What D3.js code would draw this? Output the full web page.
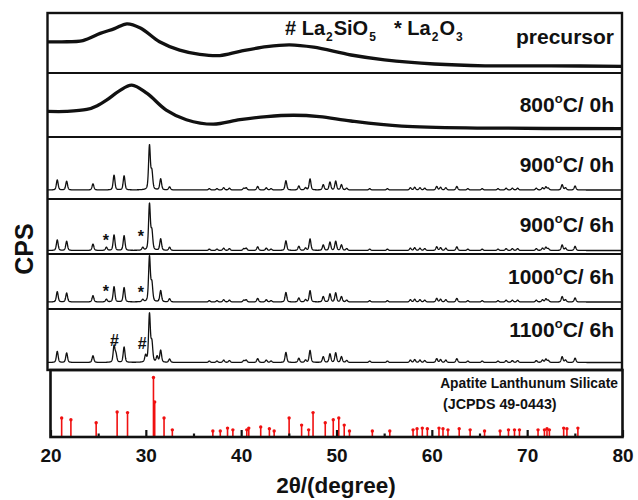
<!DOCTYPE html>
<html>
<head>
<meta charset="utf-8">
<script src="https://cdnjs.cloudflare.com/ajax/libs/d3/7.8.5/d3.min.js"></script>
<style>
body { margin: 0; background: #fff; }
text { font-family: "Liberation Sans", Arial, sans-serif; font-weight: bold; fill: #111; }
</style>
</head>
<body>
<div id="chart"></div>
<script>
// ---- data ----
// amorphous samples, smooth envelope (2theta, counts a.u.)
var precursorTheta = [20.0, 21.5, 23.7, 25.5, 27.0, 28.3, 29.7, 31.7, 33.8, 35.9, 38.0, 40.1, 42.9, 45.3, 47.8, 51.7, 55.2, 60.4, 65.7, 72.6, 80.0];
var precursorCps   = [52, 52, 54, 66, 74, 82, 75, 52, 38, 31, 29, 36, 44, 47, 43, 30, 22, 15, 12, 12, 11];
var fired800Theta  = [20.0, 22.0, 24.1, 25.2, 26.2, 27.5, 28.8, 30.4, 32.4, 34.5, 37.3, 40.1, 42.9, 45.7, 48.4, 51.7, 57.0, 65.7, 80.0];
var fired800Cps    = [40, 40, 43, 49, 58, 72, 81, 68, 42, 27, 20, 27, 32, 34, 32, 25, 17, 14, 13];

// apatite reflections seen in the crystalline patterns (relative intensity)
var apatiteTheta = [21.02, 22.0, 24.75, 26.95, 28.0, 30.65, 30.9, 31.82, 32.75, 36.9, 37.7, 38.4, 39.0, 40.5, 40.75, 41.95, 42.85, 43.35,
  44.9, 46.25, 46.95, 47.42, 48.8, 49.5, 50.1, 50.7, 51.25, 53.65, 55.5, 57.9, 58.35, 58.9, 59.4, 60.65, 61.05, 61.6, 62.75,
  63.9, 65.4, 67.05, 67.9, 68.55, 69.1, 71.05, 71.7, 72.05, 72.3, 73.75, 74.1, 75.1];
var apatiteRel = [23, 20, 14, 34, 32, 100, 40, 25, 7, 3, 3, 5, 4, 4, 5, 8, 5, 3,
  21, 9, 5, 25, 12, 18, 20, 12, 4, 3, 3, 5, 6, 5, 4, 8, 6, 5, 8,
  3, 3, 3, 4, 4, 4, 4, 5, 7, 4, 12, 5, 9];

// crystalline samples: main-peak scaling and impurity reflections
var sampleNames  = ["900_0h", "900_6h", "1000_6h", "1100_6h"];
var sampleScale  = [1.0, 1.0, 1.0, 1.0];
var la2o3Theta   = [26.15, 29.95];
var la2o3_900    = [7, 6];
var la2o3_1000   = [6, 5];
var la2sio5Theta = [27.15, 30.25, 31.45];
var la2sio5_1100 = [16, 14, 12];

// JCPDS 49-0443 stick pattern
var refTheta = [21.17, 22.14, 24.79, 26.99, 28.08, 30.80, 30.93, 31.91, 32.78, 37.03, 37.81, 38.57, 39.13, 40.59, 40.80, 42.05, 42.96, 43.46,
  45.03, 46.34, 47.08, 47.54, 48.82, 49.66, 50.24, 50.81, 51.36, 53.76, 55.59, 58.03, 58.45, 59.00, 59.53, 60.75, 61.17, 61.69, 62.87,
  64.02, 65.53, 67.16, 68.04, 68.67, 69.19, 71.14, 71.81, 72.08, 72.33, 73.83, 74.17, 75.32];
var refInt = [32, 29, 24, 42, 41, 100, 59, 32, 12, 10, 10, 15, 12, 12, 15, 17, 14, 10,
  32, 20, 12, 41, 24, 29, 32, 20, 10, 10, 10, 12, 14, 15, 14, 15, 14, 12, 14,
  12, 10, 10, 12, 12, 12, 12, 12, 14, 12, 15, 14, 15];

var xTicks = [20, 30, 40, 50, 60, 70, 80];
var xMinor = [25, 35, 45, 55, 65, 75];
var panelLabels = ["precursor", "800", "900", "900", "1000", "1100"];
var panelHours  = [null, "0h", "0h", "6h", "6h", "6h"];

// ---- layout ----
var width = 638, height = 500;
var bounds = [13, 73, 137, 199, 254, 309, 370, 437];
var labelY = [44, 111.5, 171.5, 231.5, 283.5, 336.5];
var crystBase = [190, 250.5, 302, 362.5];
var crystFull = [44, 46, 45, 48];

var svg = d3.select("#chart").append("svg")
    .attr("width", width)
    .attr("height", height);

var x = d3.scaleLinear().domain([20, 80]).range([47.5, 622]);
var xRef = d3.scaleLinear().domain([20, 80]).range([50.5, 622.5]);

// amorphous panels
var line = d3.line().curve(d3.curveCatmullRom.alpha(0.5));
[[precursorTheta, precursorCps], [fired800Theta, fired800Cps]].forEach(function (s, i) {
    var y = d3.scaleLinear().domain([0, 100]).range([bounds[i + 1], bounds[i]]);
    svg.append("path")
        .attr("d", line(s[0].map(function (t, k) { return [x(t), y(s[1][k])]; })))
        .attr("fill", "none")
        .attr("stroke", "#111")
        .attr("stroke-width", 3.3);
});

// crystalline panels: peak list -> pseudo-Voigt profile
function profile(peaks) {
    var pts = [];
    for (var t = 20; t <= 80.0001; t += 0.02) {
        var s = 0;
        peaks.forEach(function (p) {
            var d = (t - p[0]) / 0.11;
            s += p[1] * (0.6 * Math.exp(-0.693 * d * d) + 0.4 / (1 + d * d));
        });
        pts.push([t, s]);
    }
    return pts;
}

var crystLine = d3.line();
sampleNames.forEach(function (name, i) {
    var peaks = apatiteTheta.map(function (t, k) { return [t, apatiteRel[k] * sampleScale[i]]; });
    if (i === 1) la2o3Theta.forEach(function (t, k) { peaks.push([t, la2o3_900[k]]); });
    if (i === 2) la2o3Theta.forEach(function (t, k) { peaks.push([t, la2o3_1000[k]]); });
    if (i === 3) la2sio5Theta.forEach(function (t, k) { peaks.push([t, la2sio5_1100[k]]); });
    var y = d3.scaleLinear().domain([0, 100]).range([crystBase[i], crystBase[i] - crystFull[i]]);
    svg.append("path")
        .attr("d", crystLine(profile(peaks).map(function (p) { return [x(p[0]), y(p[1])]; })))
        .attr("fill", "none")
        .attr("stroke", "#111")
        .attr("stroke-width", 1.3)
        .attr("stroke-linejoin", "round");
});

// reference sticks
var yRef = d3.scaleLinear().domain([0, 100]).range([437, 377.5]);
svg.append("g").selectAll("line")
    .data(refTheta)
    .enter().append("line")
    .attr("x1", function (d) { return xRef(d); })
    .attr("x2", function (d) { return xRef(d); })
    .attr("y1", 437)
    .attr("y2", function (d, i) { return yRef(refInt[i]); })
    .attr("stroke", "#f01010")
    .attr("stroke-width", 1.6);
svg.append("g").selectAll("circle")
    .data(refTheta)
    .enter().append("circle")
    .attr("cx", function (d) { return xRef(d); })
    .attr("cy", function (d, i) { return yRef(refInt[i]); })
    .attr("r", 1.7)
    .attr("fill", "#f01010");

// frames
svg.append("rect")
    .attr("x", 47.5).attr("y", 13).attr("width", 574.5).attr("height", 357)
    .attr("fill", "none").attr("stroke", "#111").attr("stroke-width", 2.4);
bounds.slice(1, 6).forEach(function (b) {
    svg.append("line").attr("x1", 47.5).attr("x2", 622).attr("y1", b).attr("y2", b)
        .attr("stroke", "#111").attr("stroke-width", 2.2);
});
svg.append("rect")
    .attr("x", 50.5).attr("y", 370).attr("width", 572).attr("height", 67)
    .attr("fill", "none").attr("stroke", "#111").attr("stroke-width", 2.6);

// bottom axis
var axis = svg.append("g")
    .attr("transform", "translate(0,437)")
    .call(d3.axisBottom(xRef).tickValues(xTicks).tickSizeInner(-7).tickSizeOuter(0).tickPadding(12));
axis.select(".domain").remove();
axis.selectAll("line").attr("stroke", "#111").attr("stroke-width", 2.2);
axis.selectAll("text")
    .style("font-size", "19px")
    .style("font-family", "'Liberation Sans', Arial, sans-serif")
    .style("font-weight", "bold")
    .attr("fill", "#111");
var minor = svg.append("g")
    .attr("transform", "translate(0,437)")
    .call(d3.axisBottom(xRef).tickValues(xMinor).tickSizeInner(-3.5).tickSizeOuter(0).tickFormat(""));
minor.select(".domain").remove();
minor.selectAll("line").attr("stroke", "#111").attr("stroke-width", 2.2);

svg.append("text")
    .attr("x", 336).attr("y", 493)
    .attr("text-anchor", "middle")
    .style("font-size", "22.5px")
    .text("2θ/(degree)");

svg.append("text")
    .attr("transform", "translate(33,249) rotate(-90)")
    .attr("text-anchor", "middle")
    .style("font-size", "25px")
    .text("CPS");

// sample labels
panelLabels.forEach(function (lab, i) {
    var t = svg.append("text")
        .attr("x", 614).attr("y", labelY[i])
        .attr("text-anchor", "end")
        .style("font-size", "21px");
    if (panelHours[i] === null) { t.text(lab); return; }
    t.append("tspan").text(lab);
    t.append("tspan").style("font-size", "13px").attr("dy", -9).text("o");
    t.append("tspan").attr("dy", 9).text("C/ " + panelHours[i]);
});

// phase legend
var leg = svg.append("text").attr("x", 285).attr("y", 35).style("font-size", "20px");
leg.append("tspan").text("# La");
leg.append("tspan").style("font-size", "12px").attr("dy", 6).attr("dx", 1).text("2");
leg.append("tspan").attr("dy", -6).attr("dx", 1).text("SiO");
leg.append("tspan").style("font-size", "12px").attr("dy", 6).attr("dx", 1).text("5");
leg.append("tspan").attr("dy", -6).attr("x", 394).text("* La");
leg.append("tspan").style("font-size", "12px").attr("dy", 6).attr("dx", 1).text("2");
leg.append("tspan").attr("dy", -6).attr("dx", 1).text("O");
leg.append("tspan").style("font-size", "12px").attr("dy", 6).attr("dx", 1).text("3");

// phase markers on peaks
var markers = [
    {s: "*", t: 26.1, y: 246}, {s: "*", t: 29.75, y: 242},
    {s: "*", t: 26.1, y: 297}, {s: "*", t: 29.75, y: 298},
    {s: "#", t: 27.0, y: 346}, {s: "#", t: 29.9, y: 349}
];
svg.selectAll(".marker")
    .data(markers)
    .enter().append("text")
    .attr("class", "marker")
    .attr("x", function (d) { return x(d.t); })
    .attr("y", function (d) { return d.y; })
    .attr("text-anchor", "middle")
    .style("font-size", "16px")
    .text(function (d) { return d.s; });

// reference caption
svg.append("text").attr("x", 618).attr("y", 388).attr("text-anchor", "end")
    .style("font-size", "13.8px").text("Apatite Lanthunum Silicate");
svg.append("text").attr("x", 443).attr("y", 409)
    .style("font-size", "14.3px").text("(JCPDS 49-0443)");
</script>
</body>
</html>
